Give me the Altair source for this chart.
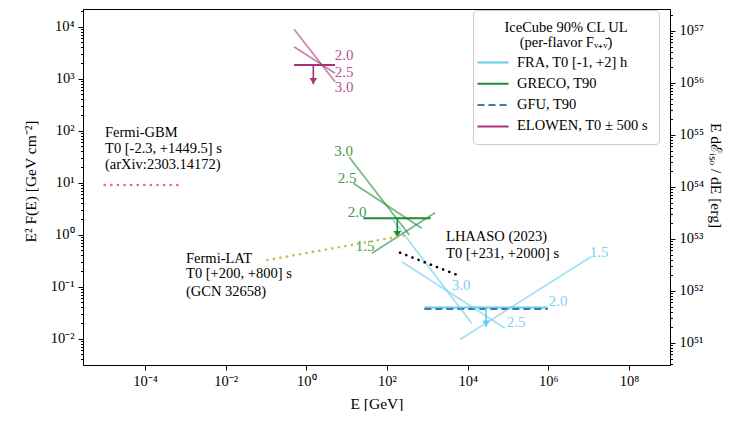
import altair as alt
import pandas as pd

FONT = "Liberation Serif"

# ---------------- axes ----------------
X_DOMAIN = [2.9e-6, 1.04e9]
Y_DOMAIN = [3.133e-3, 2.2e4]
K_ISO = 1.2e53  # conversion E^2 F -> E dE_iso/dE
X_TICKS = [1e-4, 1e-2, 1, 1e2, 1e4, 1e6, 1e8]
Y_MAJOR = [-2, -1, 0, 1, 2, 3, 4]
R_MAJOR = [51, 52, 53, 54, 55, 56, 57]

# ---------------- IceCube upper limits (index 2.0) ----------------
SERIES = ["FRA, T0 [-1, +2] h", "GRECO, T90", "GFU, T90", "ELOWEN, T0 ± 500 s"]
SERIES_COLORS = ["#66CCEE", "#228833", "#4477AA", "#AA3377"]
SERIES_DASH = [[1, 0], [1, 0], [7, 4], [1, 0]]
UL_EMIN = [843, 25.9, 843, 0.495]
UL_EMAX = [9.7e5, 1216, 9.7e5, 5.15]
UL_FLUX = [0.0400, 2.08, 0.0372, 1842]

GROUPS = ["FRA", "GRECO", "ELOWEN"]
GROUP_COLORS = ["#66CCEE", "#228833", "#AA3377"]

ARROW_GROUP = ["FRA", "GRECO", "ELOWEN"]
ARROW_E = [2.86e4, 180, 1.49]
ARROW_TOP = [0.0400, 2.08, 1842]
ARROW_TIP = [0.0170, 0.90, 790]

# other spectral indices
IDX_GROUP = ["FRA", "FRA", "FRA", "GRECO", "GRECO", "GRECO", "ELOWEN", "ELOWEN"]
IDX_GAMMA = ["1.5", "2.5", "3.0", "1.5", "2.5", "3.0", "2.5", "3.0"]
IDX_E1 = [6470, 232, 131, 41.9, 14.6, 11.6, 0.495, 0.495]
IDX_F1 = [0.00966, 0.304, 2.08, 0.44, 9.8, 31, 4140, 8950]
IDX_E2 = [1.15e7, 8.45e4, 1.26e4, 1553, 727, 358, 5.15, 5.15]
IDX_F2 = [0.379, 0.0159, 0.0199, 2.66, 1.33, 0.99, 1276, 880]

LBL_GROUP = ["FRA"] * 4 + ["GRECO"] * 4 + ["ELOWEN"] * 3
LBL_TEXT = ["1.5", "2.0", "2.5", "3.0", "3.0", "2.5", "2.0", "1.5", "2.0", "2.5", "3.0"]
LBL_E = [1.81e7, 1.74e6, 1.58e5, 6850, 8.4, 10.2, 18.1, 28.5, 8.6, 8.6, 8.6]
LBL_F = [0.467, 0.0533, 0.021, 0.108, 41.4, 12.6, 2.8, 0.61, 2915, 1370, 705]

# ---------------- EM observations ----------------
GBM_E = [1.0e-5, 9.0e-4]
GBM_F = [9.1, 9.1]
LAT_E = [0.108, 313]
LAT_F = [0.327, 0.99]
LHAASO_E = [211, 6470]
LHAASO_F = [0.453, 0.161]

NOTE_TEXT = ["Fermi-GBM", "T0 [-2.3, +1449.5] s", "(arXiv:2303.14172)",
             "Fermi-LAT", "T0 [+200, +800] s", "(GCN 32658)",
             "LHAASO (2023)", "T0 [+231, +2000] s"]
NOTE_E = [1.02e-5, 1.02e-5, 1.02e-5, 1.04e-3, 1.04e-3, 1.04e-3, 2910, 2910]
NOTE_F = [91.9, 44.7, 21.7, 0.35, 0.174, 0.0805, 0.907, 0.427]

# ---------------- helpers ----------------
SUP = str.maketrans("-0123456789", "⁻⁰¹²³⁴⁵⁶⁷⁸⁹")


def label_expr(exps):
    e = "''"
    for p in exps:
        e = f"abs(log(datum.value)/LN10 - ({p})) < 0.01 ? '10{str(p).translate(SUP)}' : " + e
    return e


def minor_values(lo, hi):
    import math
    vals = []
    for d in range(int(math.floor(math.log10(lo))) - 1, int(math.ceil(math.log10(hi))) + 1):
        for k in range(1, 10):
            v = k * 10.0 ** d
            if lo <= v <= hi:
                vals.append(v)
    return vals


MAJOR_TEST = "abs(log(datum.value)/LN10 - round(log(datum.value)/LN10)) < 0.01"

axis_common = dict(grid=False, labelFont=FONT, labelFontSize=14.5, titleFont=FONT,
                   titleFontSize=15.5, titleFontWeight="normal", labelColor="black",
                   titleColor="black", tickColor="black", domainColor="black",
                   labelOverlap=False, labelFlush=False)

xs = alt.Scale(type="log", domain=X_DOMAIN)
ys = alt.Scale(type="log", domain=Y_DOMAIN)
x_axis = alt.Axis(values=X_TICKS, labelExpr=label_expr([-4, -2, 0, 2, 4, 6, 8]),
                  title="E [GeV]", tickSize=5, labelPadding=4, titlePadding=9, **axis_common)
y_axis = alt.Axis(values=minor_values(*Y_DOMAIN), labelExpr=label_expr(Y_MAJOR),
                  title="E² F(E) [GeV cm⁻²]", orient="left",
                  tickSize={"condition": {"test": MAJOR_TEST, "value": 5}, "value": 2.5},
                  labelPadding=4, titlePadding=12, titleY=172, **axis_common)


def X(f):
    return alt.X(f"{f}:Q", scale=xs, axis=x_axis, title="E [GeV]")


def Y(f):
    return alt.Y(f"{f}:Q", scale=ys, axis=y_axis, title="E² F(E) [GeV cm⁻²]")


# ---------------- data frames ----------------
ul_rows = []
for s, a, b, f in zip(SERIES, UL_EMIN, UL_EMAX, UL_FLUX):
    ul_rows.append({"series": s, "E": a, "F": f, "o": 0})
    ul_rows.append({"series": s, "E": b, "F": f, "o": 1})
ul_df = pd.DataFrame(ul_rows)

legend = alt.Legend(title=["IceCube 90% CL UL", "(per-flavor Fᵥ₊ᵥ̄)"], orient="none",
                    legendX=390, legendY=1, symbolType="M-2,0H2", symbolSize=240,
                    symbolStrokeWidth=2, symbolFillColor="transparent",
                    labelFont=FONT, labelFontSize=14.5,
                    titleFont=FONT, titleFontSize=14.5, titleFontWeight="normal",
                    titleAnchor="middle", titleAlign="center", titleLimit=400,
                    titleLineHeight=15,
                    labelLimit=400, strokeColor="#cccccc", fillColor="white",
                    cornerRadius=4, padding=11, rowPadding=5.3, labelOffset=15,
                    titlePadding=3, labelColor="black", titleColor="black")

layers = []
layers.append(
    alt.Chart(ul_df).mark_line(strokeWidth=2).encode(
        x=X("E"), y=Y("F"),
        color=alt.Color("series:N", scale=alt.Scale(domain=SERIES, range=SERIES_COLORS), legend=legend),
        strokeDash=alt.StrokeDash("series:N", scale=alt.Scale(domain=SERIES, range=SERIES_DASH), legend=legend),
        order="o:Q",
    )
)

for g, c in zip(GROUPS, GROUP_COLORS):
    rows = []
    for gg, gam, e1, f1, e2, f2 in zip(IDX_GROUP, IDX_GAMMA, IDX_E1, IDX_F1, IDX_E2, IDX_F2):
        if gg == g:
            rows.append({"gamma": gam, "E": e1, "F": f1, "o": 0})
            rows.append({"gamma": gam, "E": e2, "F": f2, "o": 1})
    layers.append(
        alt.Chart(pd.DataFrame(rows)).mark_line(strokeWidth=1.8, opacity=0.6, color=c).encode(
            x=X("E"), y=Y("F"), detail="gamma:N", order="o:Q"
        )
    )
    lrows = [{"t": t, "E": e, "F": f} for gg, t, e, f in zip(LBL_GROUP, LBL_TEXT, LBL_E, LBL_F) if gg == g]
    layers.append(
        alt.Chart(pd.DataFrame(lrows)).mark_text(font=FONT, fontSize=15, color=c, opacity=0.85,
                                                  align="center", baseline="middle").encode(
            x=X("E"), y=Y("F"), text="t:N"
        )
    )
    arows = [{"E": e, "F": top, "F2": tip} for gg, e, top, tip in zip(ARROW_GROUP, ARROW_E, ARROW_TOP, ARROW_TIP) if gg == g]
    adf = pd.DataFrame(arows)
    layers.append(
        alt.Chart(adf).mark_rule(strokeWidth=1.6, color=c).encode(x=X("E"), y=Y("F"), y2="F2:Q")
    )
    layers.append(
        alt.Chart(adf).mark_point(shape="triangle-down", filled=True, size=55, opacity=1,
                                  color=c, yOffset=-3).encode(x=X("E"), y=Y("F2"))
    )

for e, f, c in [(GBM_E, GBM_F, "#EE6677"), (LAT_E, LAT_F, "#CCBB44"), (LHAASO_E, LHAASO_F, "black")]:
    layers.append(
        alt.Chart(pd.DataFrame({"E": e, "F": f})).mark_line(
            color=c, strokeWidth=2.6, strokeDash=[0.1, 6.5], strokeCap="round").encode(x=X("E"), y=Y("F"))
    )

layers.append(
    alt.Chart(pd.DataFrame({"t": NOTE_TEXT, "E": NOTE_E, "F": NOTE_F})).mark_text(
        font=FONT, fontSize=14.5, color="black", align="left", baseline="middle").encode(
        x=X("E"), y=Y("F"), text="t:N")
)

main = alt.layer(*layers)

# right axis (isotropic energy)
R_DOMAIN = [Y_DOMAIN[0] * K_ISO, Y_DOMAIN[1] * K_ISO]
r_axis = alt.Axis(values=minor_values(*R_DOMAIN), labelExpr=label_expr(R_MAJOR),
                  title="E dℰᵢₛₒ / dE [erg]", orient="right",
                  tickSize={"condition": {"test": MAJOR_TEST, "value": 5}, "value": 2.5},
                  labelPadding=4, titlePadding=4, titleY=166, **axis_common)
right = alt.Chart(pd.DataFrame({"Eiso": R_DOMAIN})).mark_point(opacity=0).encode(
    y=alt.Y("Eiso:Q", scale=alt.Scale(type="log", domain=R_DOMAIN), axis=r_axis, title="E dℰᵢₛₒ / dE [erg]")
)

chart = alt.layer(main, right).resolve_scale(y="independent").properties(
    width=587, height=356,
    autosize=alt.AutoSizeParams(type="none"),
    padding={"left": 75, "right": 56, "top": 1, "bottom": 46},
    background="white",
).configure_view(stroke="black", strokeWidth=1)

chart.save("out.html", embed_options={"renderer": "svg", "actions": False})
